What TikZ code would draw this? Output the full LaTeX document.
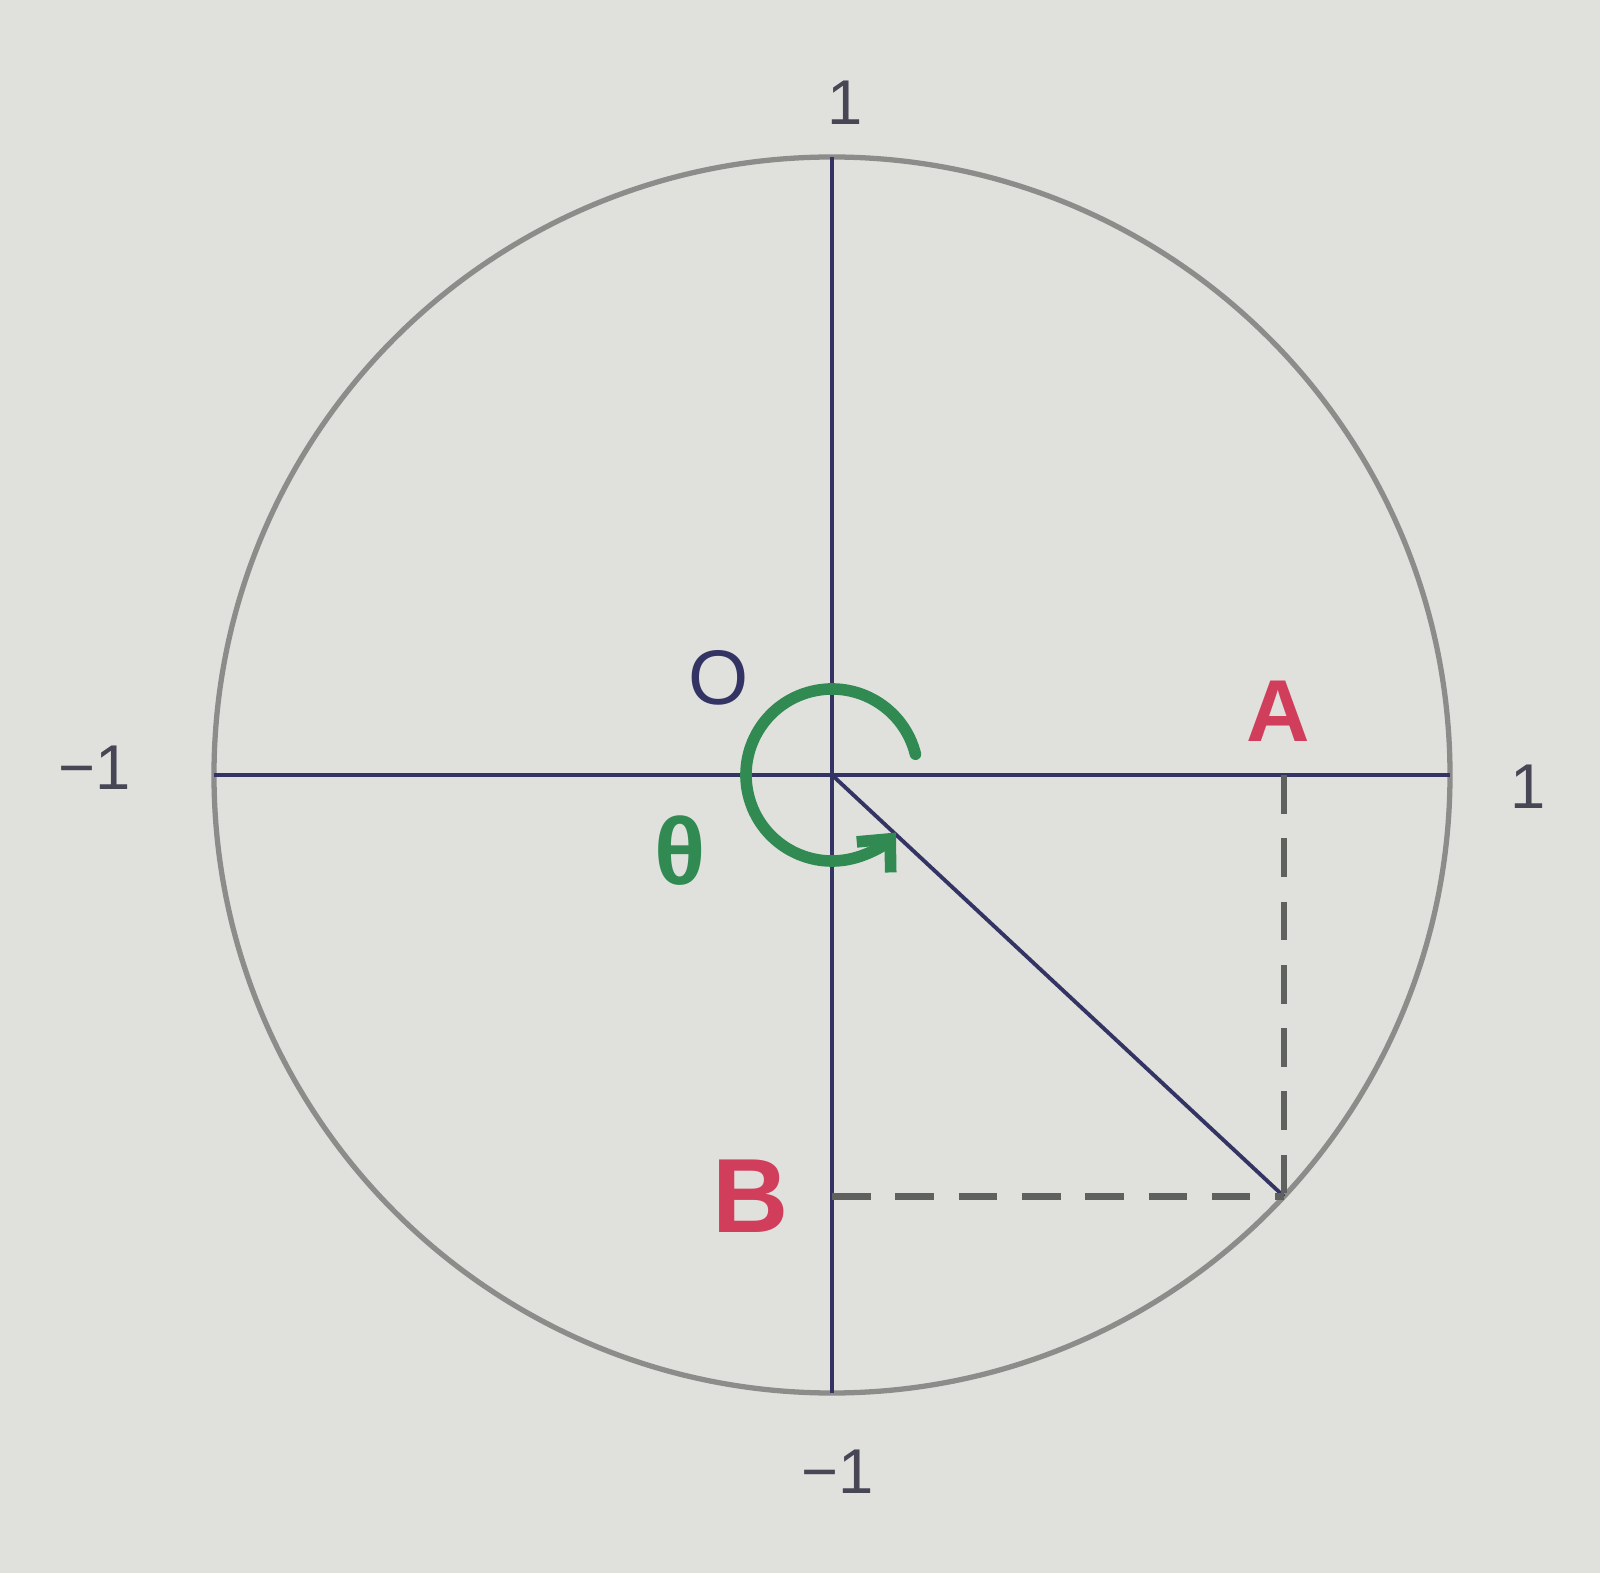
\documentclass[tikz,border=0pt]{standalone}
\usepackage{fontspec}
\setmainfont{Liberation Sans}
\usetikzlibrary{arrows.meta}
\definecolor{paper}{RGB}{224,225,220}
\definecolor{rim}{RGB}{140,141,138}
\definecolor{axisblue}{RGB}{52,52,100}
\definecolor{penred}{RGB}{208,62,92}
\definecolor{pengreen}{RGB}{48,138,82}
\definecolor{dashgray}{RGB}{95,97,95}
\definecolor{numgray}{RGB}{70,70,85}
\tikzset{
  rimline/.style={draw=rim, line width=1.5pt},
  axisline/.style={draw=axisblue, line width=1.1pt},
  dashline/.style={draw=dashgray, line width=1.8pt, dash pattern=on 11pt off 7pt},
  numlabel/.style={text=numgray, font=\fontsize{18}{20}\selectfont, inner sep=0pt},
  redlabel/.style={text=penred, inner sep=0pt},
  turnarrow/.style={draw=pengreen, line width=3.3pt, line cap=round, -{Straight Barb[length=7pt,width=13pt]}}
}
\begin{document}
\begin{tikzpicture}[x=0.01cm,y=0.01cm]
\fill[paper] (-832,-798) rectangle (768,775);
\useasboundingbox (-832,-798) rectangle (768,775);
% key points
\coordinate (O) at (0,0);
\coordinate (P) at (-43:618);
\coordinate (L) at (-618,0);
\coordinate (R) at (618,0);
\coordinate (T) at (0,618);
\coordinate (D) at (0,-618);
\coordinate (Afoot) at (P |- O);
\coordinate (Bfoot) at (O |- P);
% circle
\draw[rimline] (O) circle[radius=618];
% axes
\draw[axisline] (L) -- (R);
\draw[axisline] (T) -- (D);
% radius
\draw[axisline] (O) -- (P);
% projections
\draw[dashline] (Afoot) -- (P);
\draw[dashline] (Bfoot) -- (P);
% rotation arrow
\draw[turnarrow] (14:86) arc[start angle=14, end angle=318, radius=86];
% labels
\node[numlabel] (ntop) at (13,672) {1};
\node[numlabel] (nright) at (696,-12) {1};
\node[numlabel] (nleft) at (-737,7) {−1};
\node[numlabel] (nbottom) at (6,-697) {−1};
\node[redlabel, font=\fontsize{25}{28}\selectfont\bfseries] (labA) at (446,64) {A};
\node[redlabel, font=\fontsize{30}{33}\selectfont\bfseries] (labB) at (-81,-421) {B};
\node[text=axisblue, inner sep=0pt, font=\fontsize{22}{24}\selectfont] (labO) at (-113,97) {O};
\node[text=pengreen, inner sep=0pt, font=\fontsize{27}{30}\selectfont\bfseries] (theta) at (-152,-76) {θ};
\end{tikzpicture}
\end{document}
